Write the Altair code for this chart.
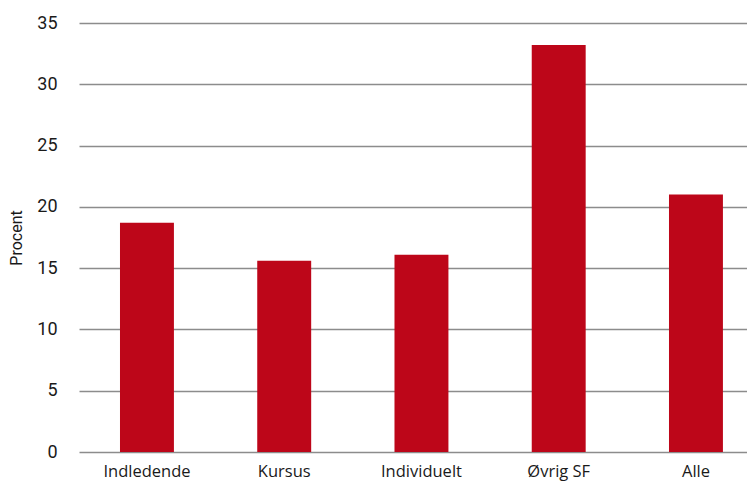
import altair as alt
import pandas as pd

categories = ["Indledende", "Kursus", "Individuelt", "Øvrig SF", "Alle"]
values = [18.7, 15.6, 16.1, 33.2, 21.0]

df = pd.DataFrame({"kategori": categories, "procent": values})

FONT = "Roboto"

chart = alt.Chart(df).mark_bar(color="#bd0619").encode(
    x=alt.X("kategori:N", sort=categories, title=None,
            scale=alt.Scale(paddingInner=0.607, paddingOuter=0.237, align=0.63),
            axis=alt.Axis(labelAngle=0, labelFont="Open Sans", labelFontSize=16.5,
                          labelColor="#1a1a1a", labelPadding=11, ticks=False,
                          domain=False, grid=False)),
    y=alt.Y("procent:Q", title="Procent",
            scale=alt.Scale(domain=[0, 35], nice=False),
            axis=alt.Axis(values=[0, 5, 10, 15, 20, 25, 30, 35], labelFont=FONT,
                          labelFontSize=18, labelColor="#1a1a1a", labelPadding=22,
                          ticks=False, domain=False, grid=True, gridColor="#8c8c8c",
                          gridWidth=1.5, titleFont=FONT, titleFontSize=16,
                          titleFontWeight="normal", titleColor="#1a1a1a",
                          titlePadding=12)),
).properties(
    width=668, height=429,
    padding={"left": 0, "top": 6, "right": 0, "bottom": 4},
).configure_view(stroke=None).configure_axisY(zindex=0)

chart.save("out.html", embed_options={"renderer": "svg", "actions": False})
